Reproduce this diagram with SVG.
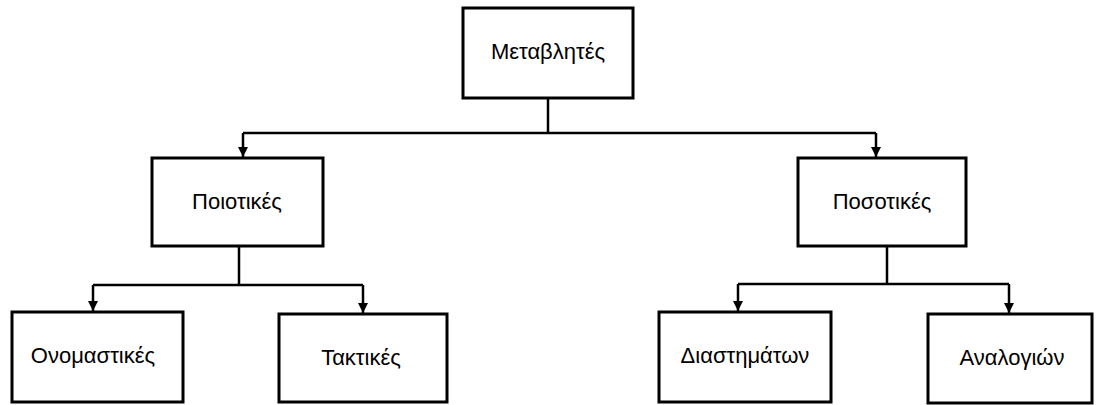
<svg xmlns="http://www.w3.org/2000/svg" width="1096" height="405" viewBox="0 0 1096 405">
<style>
.box{fill:#fff;stroke:#000;stroke-width:3}
.lbl{font-family:"Liberation Sans",Arial,sans-serif;font-size:22px;fill:#000;text-anchor:middle;dominant-baseline:central}
.ln{fill:none;stroke:#000;stroke-width:2.5}
</style>
<defs>
<marker id="ah" viewBox="0 0 10 10" refX="10" refY="5" markerWidth="4" markerHeight="4" orient="auto" markerUnits="strokeWidth">
<path d="M0,0 L10,5 L0,10 z" fill="#000"/>
</marker>
</defs>
<rect width="1096" height="405" fill="#fff"/>
<g id="connectors">
<path class="ln" d="M548,98 V133"/>
<path class="ln" d="M243,133 H876"/>
<path class="ln" d="M243,133 V157" marker-end="url(#ah)"/>
<path class="ln" d="M876,133 V157" marker-end="url(#ah)"/>
<path class="ln" d="M239,246 V285"/>
<path class="ln" d="M93,285 H363"/>
<path class="ln" d="M93,285 V311" marker-end="url(#ah)"/>
<path class="ln" d="M363,285 V313" marker-end="url(#ah)"/>
<path class="ln" d="M887,246 V284"/>
<path class="ln" d="M738,284 H1009"/>
<path class="ln" d="M738,284 V311" marker-end="url(#ah)"/>
<path class="ln" d="M1009,284 V313" marker-end="url(#ah)"/>
</g>
<g id="n-metavlites"><rect class="box" x="463" y="8" width="170" height="90"/><text class="lbl" x="548" y="51">Μεταβλητές</text></g>
<g id="n-poiotikes"><rect class="box" x="152" y="158" width="171" height="88"/><text class="lbl" x="237" y="201">Ποιοτικές</text></g>
<g id="n-posotikes"><rect class="box" x="798" y="158" width="168" height="88"/><text class="lbl" x="882" y="201">Ποσοτικές</text></g>
<g id="n-onomastikes"><rect class="box" x="12" y="312" width="171" height="90"/><text class="lbl" x="93" y="355">Ονομαστικές</text></g>
<g id="n-taktikes"><rect class="box" x="279" y="314" width="168" height="88"/><text class="lbl" x="361" y="357">Τακτικές</text></g>
<g id="n-diastimaton"><rect class="box" x="659" y="312" width="172" height="90"/><text class="lbl" x="745" y="355">Διαστημάτων</text></g>
<g id="n-analogion"><rect class="box" x="928" y="314" width="164" height="89"/><text class="lbl" x="1012" y="357">Αναλογιών</text></g>
</svg>
